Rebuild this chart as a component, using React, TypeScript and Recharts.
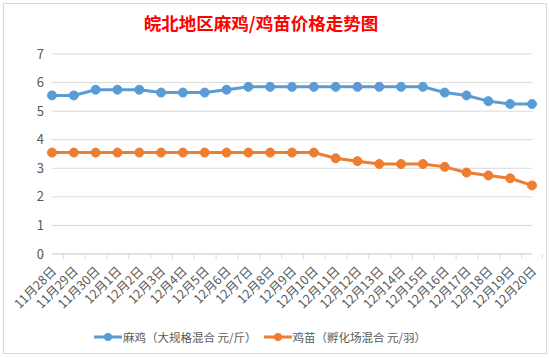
import React from "react"
import {
  LineChart, Line, XAxis, YAxis, CartesianGrid, Legend,
} from "recharts"

const dates = [
  "11月28日", "11月29日", "11月30日", "12月1日", "12月2日", "12月3日", "12月4日", "12月5日",
  "12月6日", "12月7日", "12月8日", "12月9日", "12月10日", "12月11日", "12月12日", "12月13日",
  "12月14日", "12月15日", "12月16日", "12月17日", "12月18日", "12月19日", "12月20日",
]
const maji = [
  5.55, 5.55, 5.75, 5.75, 5.75, 5.65, 5.65, 5.65, 5.75, 5.85, 5.85, 5.85,
  5.85, 5.85, 5.85, 5.85, 5.85, 5.85, 5.65, 5.55, 5.35, 5.25, 5.25,
]
const jimiao = [
  3.55, 3.55, 3.55, 3.55, 3.55, 3.55, 3.55, 3.55, 3.55, 3.55, 3.55, 3.55,
  3.55, 3.35, 3.25, 3.15, 3.15, 3.15, 3.05, 2.85, 2.75, 2.65, 2.4,
]
const yTicks = [0, 1, 2, 3, 4, 5, 6, 7]

const SERIES_A = "麻鸡（大规格混合 元/斤）"
const SERIES_B = "鸡苗（孵化场混合 元/羽）"
const seriesOrder = [SERIES_A, SERIES_B]
const TITLE = "皖北地区麻鸡/鸡苗价格走势图"

const data = dates.map((d, i) => ({ date: d, a: maji[i], b: jimiao[i] }))

const W = 544
const H = 351
const LEFT = 49
const RIGHT = 15
const BAND = (W - LEFT - RIGHT) / dates.length
const FONT = "'Noto Sans CJK SC', 'Noto Sans', sans-serif"

const DateTick = (props: any) => {
  const { x, y, payload, index } = props
  const last = index === dates.length - 1
  return (
    <g>
      <line x1={x - BAND / 2} x2={x - BAND / 2} y1={y - 8} y2={y - 3} stroke="#d9d9d9" />
      {last && <line x1={x + BAND / 2} x2={x + BAND / 2} y1={y - 8} y2={y - 3} stroke="#d9d9d9" />}
      <text
        transform={`translate(${x + 5}, ${y + 10}) rotate(-45)`}
        textAnchor="end"
        fill="#595959"
        fontSize={12.5}
        fontFamily={FONT}
      >
        {payload.value}
      </text>
    </g>
  )
}

const LegendContent = (props: any) => {
  const items = [...(props.payload || [])].sort(
    (p: any, q: any) => seriesOrder.indexOf(p.value) - seriesOrder.indexOf(q.value),
  )
  return (
    <div style={{ display: "flex", justifyContent: "center", alignItems: "center", height: 24, paddingRight: 8 }}>
      {items.map((p: any) => (
        <div key={p.value} style={{ display: "flex", alignItems: "center", marginRight: 7 }}>
          <svg width={28} height={10} style={{ marginRight: 1 }}>
            <line x1={0} x2={28} y1={5} y2={5} stroke={p.color} strokeWidth={3} />
            <circle cx={14} cy={5} r={4} fill={p.color} />
          </svg>
          <span style={{ fontSize: 11.5, color: "#595959", fontFamily: FONT }}>{p.value}</span>
        </div>
      ))}
    </div>
  )
}

const App: React.FC = () => (
  <div style={{ position: "absolute", left: 0, top: 0, width: 549, height: 358, background: "#fff", overflow: "hidden" }}>
    <div
      style={{
        position: "absolute", left: 3, top: 3, width: W, height: H,
        border: "1px solid #d9d9d9", boxSizing: "border-box",
      }}
    />
    <div
      style={{
        position: "absolute", left: 3, width: 516, top: 10, textAlign: "center",
        color: "#ff0000", fontWeight: "bold", fontSize: 17.5, fontFamily: FONT, lineHeight: "26px",
      }}
    >
      {TITLE}
    </div>
    <div style={{ position: "absolute", left: 3, top: 3 }}>
      <LineChart width={W} height={H} data={data} margin={{ top: 51, right: RIGHT, left: 0, bottom: 5 }}>
        <CartesianGrid vertical={false} stroke="#d9d9d9" />
        <XAxis
          dataKey="date"
          interval={0}
          height={71}
          stroke="#d9d9d9"
          tickLine={false}
          tick={<DateTick />}
        />
        <YAxis
          width={LEFT}
          domain={[0, 7]}
          ticks={yTicks}
          axisLine={false}
          tickLine={false}
          tick={{ fill: "#595959", fontSize: 13, fontFamily: FONT }}
        />
        <Legend verticalAlign="bottom" height={24} content={<LegendContent />} />
        <Line
          name={SERIES_A}
          dataKey="a"
          stroke="#5b9bd5"
          strokeWidth={3}
          dot={{ r: 4.5, fill: "#5b9bd5", stroke: "#5b9bd5", strokeWidth: 1 }}
          isAnimationActive={false}
        />
        <Line
          name={SERIES_B}
          dataKey="b"
          stroke="#ed7d31"
          strokeWidth={3}
          dot={{ r: 4.5, fill: "#ed7d31", stroke: "#ed7d31", strokeWidth: 1 }}
          isAnimationActive={false}
        />
      </LineChart>
    </div>
  </div>
)

export default App
